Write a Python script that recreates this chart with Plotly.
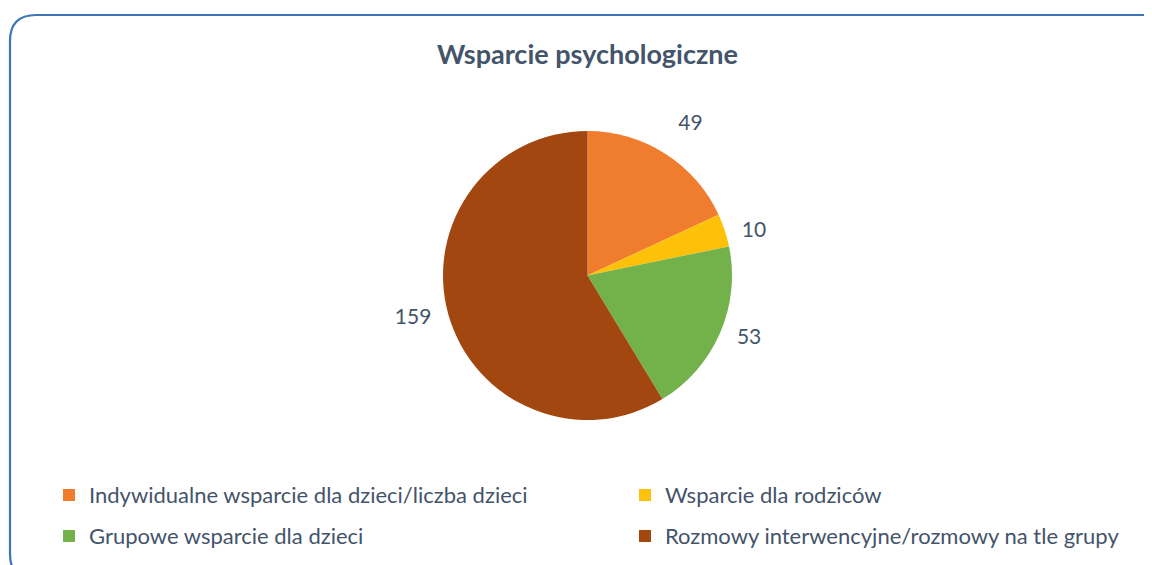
import plotly.graph_objects as go

# ---- data ----
categories = [
    "Indywidualne wsparcie dla dzieci/liczba dzieci",
    "Wsparcie dla rodziców",
    "Grupowe wsparcie dla dzieci",
    "Rozmowy interwencyjne/rozmowy na tle grupy",
]
values = [49, 10, 53, 159]
colors = ["#F07C2E", "#FDC10A", "#73B14A", "#A2470F"]
title_text = "Wsparcie psychologiczne"

# page body has an 8px margin -> figure coords = screen coords - 8
W, H = 1152, 565
TXT = "#44546A"
FONT = "Lato, 'Open Sans', sans-serif"
NB = "\u00a0"

cx, cy, r = 579.5, 267.5, 144.5

legend_labels = [
    '<span style="font-size:22px;baseline-shift:3.5px">%s</span>' % c for c in categories
]
# label padding so outside labels sit a bit away from the pie
label_templates = [
    "%{value}<br>" + NB,
    NB * 2 + "%{value}",
    NB * 2 + "%{value}",
    "%{value}" + NB * 2,
]

fig = go.Figure(
    go.Pie(
        labels=legend_labels,
        values=values,
        sort=False,
        direction="clockwise",
        rotation=0,
        marker=dict(colors=colors, line=dict(width=0)),
        texttemplate=label_templates,
        textposition="outside",
        outsidetextfont=dict(family=FONT, size=21, color=TXT),
        domain=dict(
            x=[(cx - r) / W, (cx + r) / W],
            y=[1 - (cy + r) / H, 1 - (cy - r) / H],
        ),
        hoverinfo="value",
    )
)

# rounded border (decoration)
x0, x1 = 2 / W, 1163 / W
y0, y1 = 1 - 7 / H, 1 - 572 / H
rx, ry = 26 / W, 26 / H
path = (
    f"M {x0+rx},{y0} L {x1-rx},{y0} Q {x1},{y0} {x1},{y0-ry} "
    f"L {x1},{y1+ry} Q {x1},{y1} {x1-rx},{y1} "
    f"L {x0+rx},{y1} Q {x0},{y1} {x0},{y1+ry} "
    f"L {x0},{y0-ry} Q {x0},{y0} {x0+rx},{y0} Z"
)

fig.update_layout(
    width=W,
    height=H,
    margin=dict(l=0, r=0, t=0, b=0, autoexpand=False),
    paper_bgcolor="white",
    plot_bgcolor="white",
    font=dict(family=FONT, color=TXT),
    title=dict(
        text="<b>%s</b>" % title_text,
        x=cx / W,
        xanchor="center",
        y=1 - 47 / H,
        yanchor="middle",
        font=dict(family=FONT, size=27, color=TXT),
    ),
    showlegend=True,
    legend=dict(
        orientation="h",
        x=41 / W,
        xanchor="left",
        y=1 - 461.5 / H,
        yanchor="top",
        font=dict(family=FONT, size=29.2, color=TXT),
        entrywidth=531,
        entrywidthmode="pixels",
        traceorder="normal",
        bgcolor="rgba(0,0,0,0)",
    ),
    shapes=[
        dict(
            type="path",
            xref="paper",
            yref="paper",
            path=path,
            line=dict(color="#3A76B8", width=2.2),
            fillcolor="rgba(0,0,0,0)",
            layer="below",
        )
    ],
)

fig.write_html("out.html")
